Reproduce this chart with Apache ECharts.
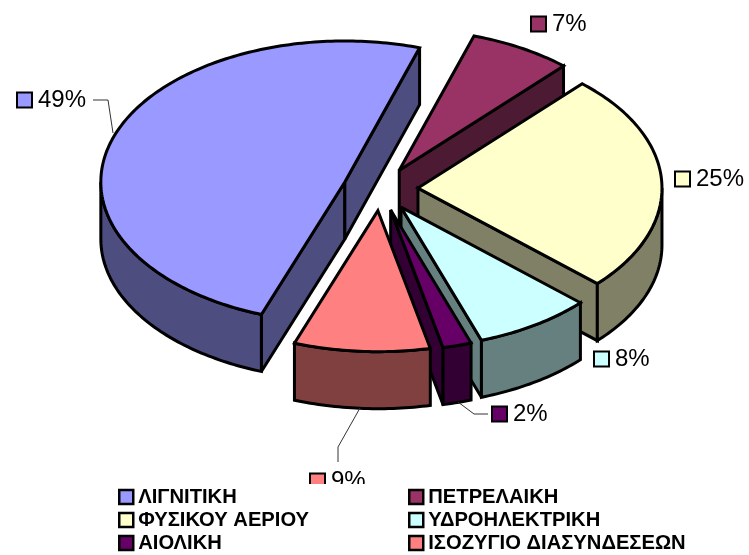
<!DOCTYPE html>
<html>
<head>
<meta charset="utf-8">
<style>
  html, body { margin: 0; background: #fff; }
  #chart { width: 749px; height: 555px; }
</style>
<script src="https://cdn.jsdelivr.net/npm/echarts@6/dist/echarts.min.js"></script>
</head>
<body>
<div id="chart"></div>
<script>
var categories = ['ΛΙΓΝΙΤΙΚΗ', 'ΠΕΤΡΕΛΑΙΚΗ', 'ΦΥΣΙΚΟΥ ΑΕΡΙΟΥ', 'ΥΔΡΟΗΛΕΚΤΡΙΚΗ', 'ΑΙΟΛΙΚΗ', 'ΙΣΟΖΥΓΙΟ ΔΙΑΣΥΝΔΕΣΕΩΝ'];
var shares = [49.4, 6.8, 25.1, 7.8, 1.9, 9.0];
var colors = ['#9999FF', '#993366', '#FFFFCC', '#CCFFFF', '#660066', '#FF8080'];
var wallColors = ['#4D4D80', '#4D1A33', '#808066', '#668080', '#330033', '#804040'];

// pie geometry
var cx = 380.4, cy = 189, rx = 244, ry = 141, depth = 57, explode = 37.6;
var startAngle = -160; // clockwise from 12 o'clock
var font = '"Liberation Sans", Arial, sans-serif';
// back slices first
var paintOrder = [1, 2, 0, 3, 4, 5];

// where the little key + percent goes, per slice
var labelBoxes = [[17, 100], [531, 24], [675, 179], [594, 359], [492, 414], [310, 481]];
var leaders = [
  [[93, 100], [108, 100], [113, 133]],
  null,
  null,
  null,
  [[458, 402], [474, 414], [488, 414]],
  [[360, 408], [338, 447], [338, 462]]
];

function rimPoint (px, py, deg) {
  var a = deg * Math.PI / 180;
  return [px + rx * Math.sin(a), py - ry * Math.cos(a)];
}

function arcPoints (px, py, from, to) {
  var pts = [];
  var n = Math.max(2, Math.ceil(Math.abs(to - from)));
  for (var i = 0; i <= n; i++) {
    pts.push(rimPoint(px, py, from + (to - from) * i / n));
  }
  return pts;
}

function poly (points, fill) {
  return {
    type: 'polygon',
    shape: { points: points },
    style: { fill: fill, stroke: '#000', lineWidth: 3, lineJoin: 'miter', miterLimit: 3 }
  };
}

function down (p) {
  return [p[0], p[1] + depth];
}

// a cut face shows when the wall hangs away from the top face
function faceVisible (apex, rim, inner) {
  var ex = rim[0] - apex[0], ey = rim[1] - apex[1];
  var side = ex * (inner[1] - apex[1]) - ey * (inner[0] - apex[0]);
  return ex * side < 0;
}

function sliceAngles (idx) {
  var total = shares.reduce(function (a, b) { return a + b }, 0);
  var sum = 0;
  for (var i = 0; i < idx; i++) sum += shares[i];
  return [startAngle + sum / total * 360, startAngle + (sum + shares[idx]) / total * 360];
}

function renderSlice (idx) {
  var ang = sliceAngles(idx);
  var a0 = ang[0], a1 = ang[1];
  var mid = (a0 + a1) / 2 * Math.PI / 180;
  var px = cx + explode * Math.sin(mid);
  var py = cy - explode * ry / rx * Math.cos(mid);
  var apex = [px, py];
  var children = [];
  var inner = rimPoint(px, py, (a0 + a1) / 2);

  [a0, a1].forEach(function (a) {
    var r = rimPoint(px, py, a);
    if (faceVisible(apex, r, inner)) {
      children.push(poly([apex, r, down(r), down(apex)], wallColors[idx]));
    }
  });

  // outer wall, only the front half of the ellipse can be seen
  for (var k = -1; k <= 1; k++) {
    var from = Math.max(a0, 90 + 360 * k);
    var to = Math.min(a1, 270 + 360 * k);
    if (to > from) {
      var top = arcPoints(px, py, from, to);
      children.push(poly(top.concat(top.map(down).reverse()), wallColors[idx]));
    }
  }

  children.push(poly([apex].concat(arcPoints(px, py, a0, a1)), colors[idx]));

  if (leaders[idx]) {
    children.push({
      type: 'polyline',
      shape: { points: leaders[idx] },
      style: { fill: null, stroke: '#333', lineWidth: 1 }
    });
  }
  var box = labelBoxes[idx];
  children.push({
    type: 'rect',
    shape: { x: box[0], y: box[1] - 7.5, width: 15, height: 15 },
    style: { fill: colors[idx], stroke: '#000', lineWidth: 2 }
  });
  children.push({
    type: 'text',
    x: box[0] + 21,
    y: box[1],
    style: {
      text: Math.round(shares[idx]) + '%',
      font: '24px ' + font,
      fill: '#000',
      textAlign: 'left',
      textVerticalAlign: 'middle'
    }
  });
  // last label runs under the legend in the original
  if (idx === 5) {
    children.push({
      type: 'rect',
      shape: { x: box[0] - 5, y: 484, width: 70, height: 10 },
      style: { fill: '#fff' }
    });
  }
  return { type: 'group', children: children };
}

var chart = echarts.init(document.getElementById('chart'));

function legendBlock (names, left) {
  return {
    orient: 'vertical',
    left: left,
    top: 487,
    height: 90,
    padding: 0,
    itemGap: 3,
    itemWidth: 14,
    itemHeight: 14,
    selectedMode: false,
    icon: 'rect',
    z: 20,
    itemStyle: { borderColor: '#000', borderWidth: 2.5 },
    textStyle: { fontFamily: font, fontWeight: 'bold', fontSize: 20.2, lineHeight: 20, color: '#000' },
    data: names
  };
}

chart.setOption({
  backgroundColor: '#fff',
  animation: false,
  legend: [
    legendBlock([categories[0], categories[2], categories[4]], 118),
    legendBlock([categories[1], categories[3], categories[5]], 408)
  ],
  series: categories.map(function (name, i) {
    return {
      name: name,
      type: 'custom',
      coordinateSystem: 'none',
      z: 2 + paintOrder.indexOf(i),
      itemStyle: { color: colors[i] },
      data: [shares[i]],
      renderItem: function () { return renderSlice(i) }
    };
  })
});
</script>
</body>
</html>
